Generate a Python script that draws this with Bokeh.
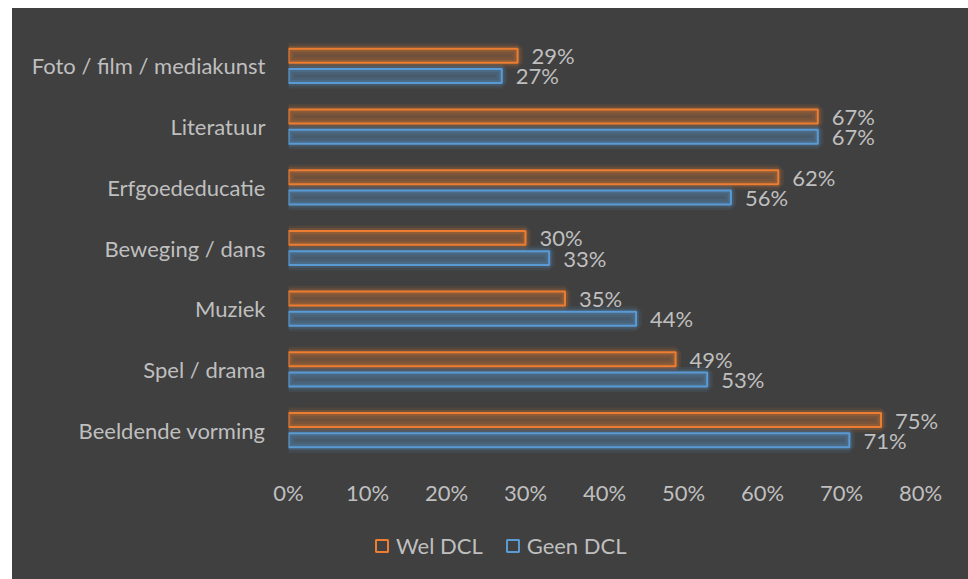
from bokeh.plotting import figure
from bokeh.models import ColumnDataSource, LabelSet, Legend, LegendItem, NumeralTickFormatter, FixedTicker, Range1d, FactorRange
from bokeh.layouts import column
from bokeh.transform import dodge
from bokeh.core.properties import value
from bokeh.embed import file_html
from bokeh.resources import INLINE

categories = ["Foto / film / mediakunst", "Literatuur", "Erfgoededucatie", "Beweging / dans",
              "Muziek", "Spel / drama", "Beeldende vorming"]
wel_dcl = [0.29, 0.67, 0.62, 0.30, 0.35, 0.49, 0.75]
geen_dcl = [0.27, 0.67, 0.56, 0.33, 0.44, 0.53, 0.71]
x_ticks = [0, 0.1, 0.2, 0.3, 0.4, 0.5, 0.6, 0.7, 0.8]
series_names = ["Wel DCL", "Geen DCL"]

BG = "#404040"
TXT = "#bfbfbf"
ORANGE = "#ED7D31"
BLUE = "#5B9BD5"
FONT = "Lato"
FS = "22px"

src = ColumnDataSource(dict(
    cat=categories, wel=wel_dcl, geen=geen_dcl,
    wel_lbl=[f"{round(v*100)}%" for v in wel_dcl],
    geen_lbl=[f"{round(v*100)}%" for v in geen_dcl],
))

# frame spans 0 .. 0.8 over 632 px, extended 40 px to the right so value labels are not clipped
p = figure(width=956, height=507, output_backend="svg", toolbar_location=None,
           y_range=FactorRange(factors=list(reversed(categories))), x_range=Range1d(0, 0.8 * 672 / 632),
           min_border_left=276, min_border_right=8, min_border_top=27, min_border_bottom=55)
p.background_fill_color = BG
p.border_fill_color = BG
p.outline_line_color = None
p.xgrid.grid_line_color = None
p.ygrid.grid_line_color = None
p.styles = {"background-color": BG}

h = 0.23
off = 0.167
# soft glow layers
for o, col, key in [(off, ORANGE, "wel"), (-off, BLUE, "geen")]:
    yy = dodge("cat", o, range=p.y_range)
    p.hbar(y=yy, right=key, left=0, height=h, source=src, fill_color=None,
           line_color=col, line_alpha=0.1, line_width=11)
    p.hbar(y=yy, right=key, left=0, height=h, source=src, fill_color=None,
           line_color=col, line_alpha=0.18, line_width=6)

p.hbar(y=dodge("cat", off, range=p.y_range), right="wel", left=0, height=h, source=src,
       fill_color=ORANGE, fill_alpha=0.27, line_color=ORANGE, line_width=2)
p.hbar(y=dodge("cat", -off, range=p.y_range), right="geen", left=0, height=h, source=src,
       fill_color=BLUE, fill_alpha=0.3, line_color=BLUE, line_width=2)

for key, lbl, o in [("wel", "wel_lbl", off), ("geen", "geen_lbl", -off)]:
    ls = LabelSet(x=key, y=dodge("cat", o, range=p.y_range), text=lbl, source=src,
                  x_offset=14, text_baseline="middle", text_color=TXT,
                  text_font_size=FS, text_font=value(FONT))
    p.add_layout(ls)

p.xaxis.ticker = FixedTicker(ticks=x_ticks)
p.xaxis.formatter = NumeralTickFormatter(format="0%")
for ax in (p.xaxis[0], p.yaxis[0]):
    ax.axis_line_color = None
    ax.major_tick_line_color = None
    ax.minor_tick_line_color = None
    ax.major_label_text_color = TXT
    ax.major_label_text_font_size = FS
    ax.major_label_text_font = FONT
p.xaxis.major_label_standoff = 12
p.yaxis.major_label_standoff = 17

# legend figure
q = figure(width=956, height=64, output_backend="svg", toolbar_location=None,
           x_range=Range1d(0, 1), y_range=Range1d(0, 1),
           min_border_left=276, min_border_right=8, min_border_top=0, min_border_bottom=0)
q.axis.visible = False
q.grid.visible = False
q.background_fill_color = BG
q.border_fill_color = BG
q.outline_line_color = None
q.styles = {"background-color": BG}
lw = q.quad(left=[-5], right=[-4], bottom=[-5], top=[-4], fill_color=None,
            line_color=ORANGE, line_width=2)
lg = q.quad(left=[-5], right=[-4], bottom=[-5], top=[-4], fill_color=None,
            line_color=BLUE, line_width=2)
legend = Legend(items=[LegendItem(label=series_names[0], renderers=[lw]),
                       LegendItem(label=series_names[1], renderers=[lg])],
                orientation="horizontal", location=(86, 20))
legend.background_fill_alpha = 0
legend.border_line_alpha = 0
legend.label_text_color = TXT
legend.label_text_font_size = FS
legend.label_text_font = FONT
legend.glyph_width = 15
legend.glyph_height = 15
legend.spacing = 22
legend.label_standoff = 7
legend.margin = 0
legend.padding = 0
q.add_layout(legend, "center")

layout = column(p, q, spacing=0)
layout.margin = (8, 0, 0, 12)
layout.styles = {"background-color": BG}
open("out.html", "w").write(file_html(layout, INLINE))
